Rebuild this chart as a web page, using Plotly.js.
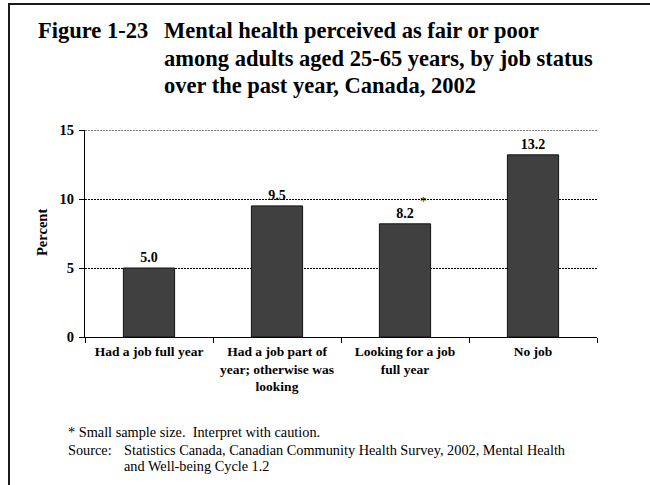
<!DOCTYPE html>
<html>
<head>
<meta charset="utf-8">
<script src="https://cdn.plot.ly/plotly-3.0.1.min.js"></script>
<style>
  html, body { margin: 0; padding: 0; background: #fff; }
  #chart { width: 650px; height: 485px; position: absolute; left: 0; top: 0; }
  #frame { position: absolute; left: 8px; top: 3px; width: 700px; height: 480px;
           border-left: 2px solid #1a1a1a; border-top: 2px solid #1a1a1a;
           border-bottom: 1px solid #dcdcdc; pointer-events: none; }
</style>
</head>
<body>
<div id="chart"></div>
<div id="frame"></div>
<script>
// ---- data ----
var categories = [
  "Had a job full year",
  "Had a job part of<br>year; otherwise was<br>looking",
  "Looking for a job<br>full year",
  "No job"
];
var percents = [5.0, 9.5, 8.2, 13.2];
var smallSample = [false, false, true, false];
var yTicks = [0, 5, 10, 15];

var titleLead = "Figure 1-23";
var titleLines = [
  "Mental health perceived as fair or poor",
  "among adults aged 25-65 years, by job status",
  "over the past year, Canada, 2002"
];
var yTitle = "Percent";
var footNote = "* Small sample size.  Interpret with caution.";
var sourceLabel = "Source:";
var sourceLines = [
  "Statistics Canada, Canadian Community Health Survey, 2002, Mental Health",
  "and Well-being Cycle 1.2"
];

// ---- layout helpers (pixel -> paper) ----
var W = 650, H = 485;
var mL = 85, mR = 53, mT = 130, mB = 148;
var pw = W - mL - mR, ph = H - mT - mB;
function px(x) { return (x - mL) / pw; }
function py(y) { return (H - mB - y) / ph; }

var serif = "'Liberation Serif', 'Times New Roman', Times, serif";
var titleSize = 22.5, tickSize = 13.5, noteSize = 14.3;
var yMax = yTicks[yTicks.length - 1];

var trace = {
  type: "bar",
  x: categories,
  y: percents,
  width: 0.4,
  marker: { color: "#404040", line: { color: "#111", width: 1 } },
  text: percents.map(function (v) { return "<b>" + v.toFixed(1) + "</b>"; }),
  textposition: "outside",
  textfont: { family: serif, size: 14, color: "#000" },
  constraintext: "none",
  cliponaxis: false,
  hoverinfo: "none"
};

function label(text, xPix, yPix, size, opts) {
  var a = {
    xref: "paper", yref: "paper", x: px(xPix), y: py(yPix),
    xanchor: "left", yanchor: "middle", text: text, showarrow: false,
    font: { family: serif, size: size, color: "#000" }
  };
  for (var k in (opts || {})) a[k] = opts[k];
  return a;
}

var annotations = [];
// title
var titleBase = [38, 65.5, 93];
annotations.push(label("<b>" + titleLead + "</b>", 36, titleBase[0] - 7.5, titleSize));
titleLines.forEach(function (t, i) {
  annotations.push(label("<b>" + t + "</b>", 162, titleBase[i] - 7.5, titleSize));
});
// y title
annotations.push(label("<b>" + yTitle + "</b>", 42, 233, 14.5, { xanchor: "center", textangle: -90 }));
// small sample markers
for (var i = 0; i < categories.length; i++) {
  if (smallSample[i]) {
    annotations.push({
      xref: "x", yref: "y", x: categories[i], y: percents[i], xanchor: "left", yanchor: "bottom",
      xshift: 13, yshift: 14, text: "*", showarrow: false,
      font: { family: serif, size: 13, color: "#000" }
    });
  }
}
// footnotes
annotations.push(label(footNote, 66, 432, noteSize));
annotations.push(label(sourceLabel, 66, 450, noteSize));
sourceLines.forEach(function (t, i) {
  annotations.push(label(t, 122, 450 + 16 * i, noteSize));
});

var layout = {
  width: W, height: H,
  font: { family: serif },
  margin: { l: mL, r: mR, t: mT, b: mB, pad: 0 },
  paper_bgcolor: "rgba(0,0,0,0)", plot_bgcolor: "rgba(0,0,0,0)",
  showlegend: false,
  bargap: 0.6,
  xaxis: {
    type: "category",
    showline: true, linecolor: "#000", linewidth: 1,
    ticks: "outside", tickson: "boundaries", ticklen: 5, tickcolor: "#000",
    showgrid: false, zeroline: false,
    tickfont: { family: serif, size: tickSize, color: "#000" },
    tickprefix: "<b>", ticksuffix: "</b>",
    ticklabelstandoff: 2,
    automargin: false
  },
  yaxis: {
    range: [0, yMax], tickvals: yTicks,
    ticktext: yTicks.map(function (t) { return "<b>" + t + "</b>"; }),
    showline: true, linecolor: "#000", linewidth: 1,
    ticks: "outside", ticklen: 5, tickcolor: "#000",
    showgrid: true, gridcolor: "#000", gridwidth: 1, griddash: "2px,1px",
    zeroline: false,
    tickfont: { family: serif, size: 14.5, color: "#000" },
    ticklabelstandoff: 2,
    automargin: false
  },
  // top gridline (Plotly hides the grid line sitting on the range end)
  shapes: [{
    type: "line", xref: "paper", x0: 0, x1: 1, yref: "y", y0: yMax, y1: yMax,
    layer: "below", line: { color: "#000", width: 1, dash: "2px,1px" }
  }],
  annotations: annotations
};

Plotly.newPlot("chart", [trace], layout, { displayModeBar: false, staticPlot: true });
</script>
</body>
</html>
